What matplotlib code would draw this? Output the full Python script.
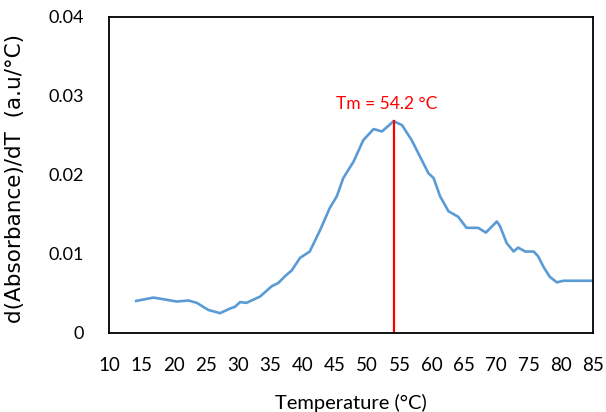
import matplotlib
matplotlib.use('Agg')
import matplotlib.pyplot as plt

# --- datos ---
temp = [14.2, 16.9, 20.5, 22.3, 23.6, 25.4, 27.2, 28.8, 29.5, 30.3, 31.3, 33.4,
        35.2, 36.2, 37.3, 38.3, 39.6, 41.1, 42.7, 44.2, 45.3, 46.3, 47.9, 49.4,
        51.0, 52.3, 54.1, 55.4, 56.9, 58.2, 59.5, 60.3, 61.3, 62.6, 64.1, 65.4,
        67.2, 68.4, 70.1, 70.6, 71.6, 72.7, 73.4, 74.5, 75.8, 76.5, 77.3, 78.3,
        79.4, 80.4, 85.0]
deriv = [0.00405, 0.00447, 0.00397, 0.0041, 0.0038, 0.0029, 0.0025, 0.0031,
         0.0033, 0.0039, 0.0038, 0.0046, 0.0059, 0.0063, 0.0072, 0.0079, 0.0095,
         0.0103, 0.0130, 0.0158, 0.0173, 0.0196, 0.0217, 0.0244, 0.0258, 0.0255,
         0.0268, 0.0263, 0.0244, 0.0223, 0.0202, 0.0196, 0.0173, 0.0154, 0.0147,
         0.0133, 0.0133, 0.0127, 0.0141, 0.0135, 0.0114, 0.0103, 0.0108, 0.0103,
         0.0103, 0.0097, 0.0084, 0.0071, 0.0064, 0.0066, 0.0066]
tm = 54.2
tm_peak = 0.0268
x_ticks = list(range(10, 90, 5))
y_ticks = [0, 0.01, 0.02, 0.03, 0.04]
y_tick_labels = ['0', '0.01', '0.02', '0.03', '0.04']

plt.rcParams['font.family'] = ['Lato', 'DejaVu Sans']

fig = plt.figure(figsize=(6.06, 4.12), dpi=100)
ax = fig.add_axes([0.18, 0.192, 0.7985, 0.767])

ax.plot(temp, deriv, color='#5B9BD5', linewidth=1.9)
ax.plot([tm, tm], [0, tm_peak], color='#FF0000', linewidth=1.6)
ax.text(53.0, 0.0290, 'Tm = 54.2 °C', color='#FF0000', fontsize=12.5,
        ha='center', va='center')

ax.set_xlim(10, 85)
ax.set_ylim(0, 0.04)
ax.set_xticks(x_ticks)
ax.set_yticks(y_ticks)
ax.set_yticklabels(y_tick_labels)
ax.tick_params(length=0)
ax.tick_params(axis='x', pad=17, labelsize=13.5)
ax.tick_params(axis='y', pad=18, labelsize=13)

for s in ax.spines.values():
    s.set_color('black')
    s.set_linewidth(1.3)

ax.set_xlabel('Temperature (°C)', fontsize=14.5, va='center')
ax.xaxis.set_label_coords(0.5, -0.222)
ax.set_ylabel('d(Absorbance)/dT  (a.u/°C)', fontsize=15.5,
              family=['DejaVu Sans'], va='center')
ax.yaxis.set_label_coords(-0.195, 0.49)

fig.savefig('out.png', dpi=100)
